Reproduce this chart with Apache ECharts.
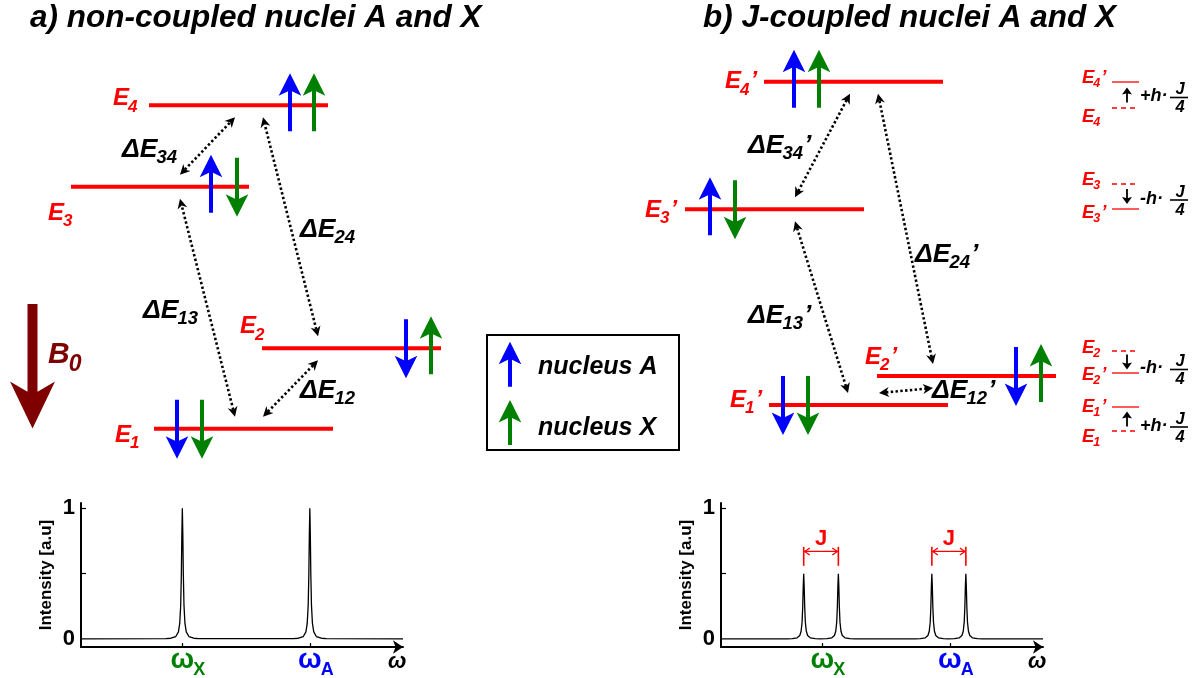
<!DOCTYPE html>
<html><head><meta charset="utf-8">
<script src="https://cdn.jsdelivr.net/npm/echarts@6/dist/echarts.min.js"></script>
<style>html,body{margin:0;padding:0;background:#fff}#c{width:1197px;height:678px}</style>
</head><body><div id="c"></div><script>
// ================= DATA =================
// Spectra: frequency along the ω axis (arb. units), intensity in a.u.
const omegaTicks = [31, 70];                 // ωX, ωA
const omegaTickNames = ['X', 'A'];
const intensityTickLabels = [0, 1];
const intensityTicks = [0.5, 1];
const peaksNonCoupled = [[31, 1], [70, 1]];                        // [position, height]
const peaksCoupled = [[25.3, 0.5], [35.9, 0.5], [64.5, 0.5], [74.9, 0.5]];
const jSplittings = [[25.3, 35.9], [64.5, 74.9]];
// line shape: [offset from centre, relative height]
const lineShape = [[-5,0.004],[-3.5,0.007],[-2,0.02],[-1.2,0.055],[-0.8,0.12],[-0.5,0.26],[-0.3,0.5],[-0.15,0.8],[0,1],
                   [0.15,0.8],[0.3,0.5],[0.5,0.26],[0.8,0.12],[1.2,0.055],[2,0.02],[3.5,0.007],[5,0.004]];

// Energy diagram: energies in diagram units (E1..E4)
const levelIdx = ['1', '2', '3', '4'];
const energiesNonCoupled = [249.3, 329.7, 491.3, 572.7];
const energiesCoupled = [273, 302, 468.7, 596.3];
const spinStates = [['down','down'], ['down','up'], ['up','down'], ['up','up']];   // [nucleus A, nucleus X]
const transitions = [[0,1], [0,2], [1,3], [2,3]];                                  // ΔE12, ΔE13, ΔE24, ΔE34
const shiftDirection = ['up', 'down', 'down', 'up'];                               // E_i' relative to E_i
const shiftSign = ['+', '-', '-', '+'];
const titles = ['a) non-coupled nuclei A and X', 'b) J-coupled nuclei A and X'];
const legendNames = ['nucleus A', 'nucleus X'];
const fieldLabel = ['B', '0'];
const intensityName = 'Intensity [a.u]';

// ================= LAYOUT / STYLE =================
const W = 1197, H = 678;
const RED = '#ff0000', GREEN = '#008000', BLUE = '#0000ff', DARKRED = '#7f0000';
const FF = '"Liberation Sans", Arial, Helvetica, sans-serif';
const L = {
  a: { levelX: [[154,333],[262,441],[71,249],[149,328]],
       label: [[115,13],[240,-15],[48,33],[113,0]],
       spinX: [[177,202],[406,431],[211,237],[290,314]],
       trX: [[263,318],[235,180],[318,263],[180,235]],
       trLabel: [[300,398],[143,318],[300,237],[122,157]],
       prime: '' },
  b: { levelX: [[769,948],[877,1056],[685,864],[764,943]],
       label: [[730,2],[865,-12],[645,7.5],[725,6.5]],
       spinX: [[783,808],[1016,1041],[710,735],[794,819]],
       trX: [[879,933],[848,795],[933,878],[795,850]],
       trLabel: [[932,398],[748,323],[915,262],[748,153]],
       prime: '’' }
};
const SH = { labelX: 1082, lineX: [1112,1139], arrowX: 1127, hX: 1140, fracX: [1170,1188],
  primedY: [407, 373, 209, 82], plainY: [431, 351, 184, 108],
  primedBase: [412, 380, 218, 83], plainBase: [442, 353, 185, 122], fracY: [427, 369.5, 200, 97.5] };

const mctx = document.createElement('canvas').getContext('2d');
function fnt(size, bold, italic) { return (italic ? 'italic ' : '') + (bold ? 'bold ' : '') + size + 'px ' + FF; }
function tw(s, f) { mctx.font = f; return mctx.measureText(s).width; }
const KB = 0.28;
function T(s, x, base, size, color, o) {
  o = o || {};
  const f = fnt(size, o.bold !== false, o.italic !== false);
  const al = o.align || 'left';
  return { type: 'text', z2: 5, style: { text: s, x: x, y: base - KB * size, font: f, fill: color,
    align: al, verticalAlign: 'middle', textAlign: al, textVerticalAlign: 'middle' } };
}
function SL(main, sub, prime, x, base, size, subSize, subDy, color) {
  const els = [T(main, x, base, size, color)];
  let cx = x + tw(main, fnt(size, true, true));
  if (sub) { els.push(T(sub, cx - 1, base + subDy, subSize, color)); cx += tw(sub, fnt(subSize, true, true)) - 1; }
  if (prime) els.push(T(prime, cx + 1, base, size, color));
  return els;
}
function P(api, x, py) { return api.coord([x, H - py]); }
function arrowPts(x, yTail, yTip, hw, hl, sw, nf) {
  const s = yTip > yTail ? 1 : -1;
  return [[x, yTip], [x + hw, yTip - s * hl], [x + sw, yTip - s * hl * nf], [x + sw, yTail],
          [x - sw, yTail], [x - sw, yTip - s * hl * nf], [x - hw, yTip - s * hl]];
}
function blockArrow(api, x, yTail, yTip, hw, hl, sw, nf, color) {
  return { type: 'polygon', shape: { points: arrowPts(x, yTail, yTip, hw, hl, sw, nf).map(p => P(api, p[0], p[1])) },
           style: { fill: color } };
}
function headPoly(tip, dx, dy, hl, hw, nf) {
  const bx = tip[0] - dx * hl, by = tip[1] - dy * hl, px = -dy, py = dx;
  return [tip, [bx + px * hw, by + py * hw], [tip[0] - dx * hl * nf, tip[1] - dy * hl * nf], [bx - px * hw, by - py * hw]];
}
function dottedArrow(p1, p2) {
  const dx = p2[0] - p1[0], dy = p2[1] - p1[1], len = Math.hypot(dx, dy), ux = dx / len, uy = dy / len;
  const hl = 10, hw = 5, nf = 0.7;
  return [
    { type: 'line', shape: { x1: p1[0] + ux * hl * nf, y1: p1[1] + uy * hl * nf, x2: p2[0] - ux * hl * nf, y2: p2[1] - uy * hl * nf },
      style: { stroke: '#000', lineWidth: 2.6, lineDash: [2.4, 2.4] } },
    { type: 'polygon', shape: { points: headPoly(p1, -ux, -uy, hl, hw, nf) }, style: { fill: '#000' } },
    { type: 'polygon', shape: { points: headPoly(p2, ux, uy, hl, hw, nf) }, style: { fill: '#000' } }
  ];
}
function mapEls(api, els) { return els.map(e => { const q = P(api, e.style.x, e.style.y); e.style.x = q[0]; e.style.y = q[1]; return e; }); }

// ---------- diagram elements ----------
const diagramEls = [];
function addPanel(key, energies) {
  const lay = L[key];
  energies.forEach((E, i) => {
    const py = H - E;
    diagramEls.push(api => {
      const a = api.coord([lay.levelX[i][0], E]), b = api.coord([lay.levelX[i][1], E]);
      return { type: 'line', shape: { x1: a[0], y1: a[1], x2: b[0], y2: b[1] }, style: { stroke: RED, lineWidth: 4 } };
    });
    spinStates[i].forEach((dir, n) => {
      const x = lay.spinX[i][n], col = n === 0 ? BLUE : GREEN;
      const tail = dir === 'up' ? py + 26 : py - 29, tip = dir === 'up' ? py - 32 : py + 30;
      diagramEls.push(api => blockArrow(api, x, tail, tip, 11.3, 22.5, 2, 0.8, col));
    });
    diagramEls.push(api => ({ type: 'group', children:
      mapEls(api, SL('E', levelIdx[i], lay.prime, lay.label[i][0], py + lay.label[i][1], 24, 17, 6.5, RED)) }));
  });
  transitions.forEach(([lo, hi], t) => {
    diagramEls.push(api => {
      const p1 = api.coord([lay.trX[t][0], energies[lo] + 12]), p2 = api.coord([lay.trX[t][1], energies[hi] - 12]);
      const lab = mapEls(api, SL('ΔE', levelIdx[lo] + levelIdx[hi], lay.prime, lay.trLabel[t][0], lay.trLabel[t][1], 26.5, 18.5, 6.5, '#000'));
      return { type: 'group', children: dottedArrow(p1, p2).concat(lab) };
    });
  });
}
addPanel('a', energiesNonCoupled);
addPanel('b', energiesCoupled);

// titles
diagramEls.push(api => ({ type: 'group', children: mapEls(api, [T(titles[0], 30, 27, 31.5, '#000'), T(titles[1], 703, 27, 31.5, '#000')]) }));
// B0 field arrow
diagramEls.push(api => ({ type: 'group', children: [blockArrow(api, 32.5, 304, 428.5, 22.5, 47, 5, 0.78, DARKRED)]
  .concat(mapEls(api, SL(fieldLabel[0], fieldLabel[1], '', 48, 363, 30, 23, 8.5, DARKRED))) }));
// legend box
diagramEls.push(api => {
  const a = P(api, 487, 335), b = P(api, 679, 450);
  return { type: 'group', children: [
    { type: 'rect', shape: { x: a[0], y: a[1], width: b[0] - a[0], height: b[1] - a[1] }, style: { fill: 'none', stroke: '#000', lineWidth: 2 } },
    blockArrow(api, 510, 386.7, 341.7, 11.3, 22.5, 2, 0.8, BLUE),
    blockArrow(api, 510, 445, 400, 11.3, 22.5, 2, 0.8, GREEN)
  ].concat(mapEls(api, [T(legendNames[0], 538, 374.5, 25, '#000'), T(legendNames[1], 538, 435, 25, '#000')])) };
});
// level-shift annotations
for (let i = 0; i < 4; i++) {
  diagramEls.push(api => {
    const ch = [];
    const pa = P(api, SH.lineX[0], SH.primedY[i]), pb = P(api, SH.lineX[1], SH.primedY[i]);
    ch.push({ type: 'line', shape: { x1: pa[0], y1: pa[1], x2: pb[0], y2: pb[1] }, style: { stroke: RED, lineWidth: 1.3 } });
    const qa = P(api, SH.lineX[0], SH.plainY[i]), qb = P(api, SH.lineX[1], SH.plainY[i]);
    ch.push({ type: 'line', shape: { x1: qa[0], y1: qa[1], x2: qb[0], y2: qb[1] }, style: { stroke: RED, lineWidth: 1.3, lineDash: [5, 4] } });
    const c = (SH.primedY[i] + SH.plainY[i]) / 2, s = shiftDirection[i] === 'up' ? -1 : 1;
    ch.push(blockArrow(api, SH.arrowX, c - s * 7.5, c + s * 7.5, 5, 7, 0.9, 0.85, '#000'));
    const fy = SH.fracY[i];
    const fa = P(api, SH.fracX[0], fy), fb = P(api, SH.fracX[1], fy);
    ch.push({ type: 'line', shape: { x1: fa[0], y1: fa[1], x2: fb[0], y2: fb[1] }, style: { stroke: '#000', lineWidth: 1.6 } });
    const fc = (SH.fracX[0] + SH.fracX[1]) / 2;
    const txt = SL('E', levelIdx[i], '’', SH.labelX, SH.primedBase[i], 18.5, 12.5, 4, RED)
      .concat(SL('E', levelIdx[i], '', SH.labelX, SH.plainBase[i], 18.5, 12.5, 4, RED))
      .concat([T(shiftSign[i] + 'h·', SH.hX, fy + 4, 18, '#000'), T('J', fc + 1, fy - 3, 16.5, '#000', { align: 'center' }),
               T('4', fc + 1, fy + 15, 16.5, '#000', { align: 'center' })]);
    return { type: 'group', children: ch.concat(mapEls(api, txt)) };
  });
}

// ---------- spectra ----------
const X_MAX = 98.5, Y_MIN = -0.06, Y_MAX = 1.04;
function buildSpectrum(peaks) {
  const pts = [[0, 0.002]];
  peaks.forEach(([c, h]) => lineShape.forEach(([d, r]) => pts.push([c + d, h * r])));
  pts.push([X_MAX, 0.002]);
  return pts;
}
function specX(gi) {
  return { gridIndex: gi, type: 'value', min: 0, max: X_MAX,
    axisLine: { show: true, onZero: false, symbol: ['none', 'arrow'], symbolSize: [10, 10], lineStyle: { color: '#000', width: 2 } },
    axisTick: { show: true, inside: true, length: 4, customValues: omegaTicks, lineStyle: { color: '#000', width: 1.2 } },
    axisLabel: { show: false }, splitLine: { show: false } };
}
function specY(gi) {
  return { gridIndex: gi, type: 'value', min: Y_MIN, max: Y_MAX,
    name: intensityName, nameLocation: 'middle', nameGap: 26, nameRotate: 90,
    nameTextStyle: { fontFamily: FF, fontSize: 17, fontWeight: 'bold', color: '#000' },
    axisLine: { show: true, onZero: false, lineStyle: { color: '#000', width: 2 } },
    axisTick: { show: true, inside: true, length: 5, customValues: intensityTicks, lineStyle: { color: '#000', width: 1.2 } },
    axisLabel: { show: true, customValues: intensityTickLabels, fontFamily: FF, fontSize: 22, fontWeight: 'bold', color: '#000', margin: 6 },
    splitLine: { show: false } };
}
function omegaLabels(gi) {
  return { type: 'custom', xAxisIndex: gi, yAxisIndex: gi, silent: true, clip: false, z: 5,
    data: omegaTicks.map(t => [t, 0]).concat([[X_MAX, 0]]),
    renderItem: (p, api) => {
      const i = p.dataIndex, pt = api.coord([api.value(0), Y_MIN]);
      if (i === omegaTicks.length) return T('ω', pt[0] - 15, pt[1] + 21, 22, '#000');
      const col = i === 0 ? GREEN : BLUE, w = tw('ω', fnt(28, true, false));
      return { type: 'group', children: [T('ω', pt[0], pt[1] + 21, 28, col, { italic: false, align: 'center' }),
        T(omegaTickNames[i], pt[0] + w / 2 - 1, pt[1] + 28, 18, col, { italic: false })] };
    } };
}
const jSeries = { type: 'custom', xAxisIndex: 2, yAxisIndex: 2, silent: true, clip: false, z: 5,
  data: jSplittings.map(p => [p[0], p[1]]),
  renderItem: (p, api) => {
    const x0 = api.value(0), x1 = api.value(1);
    const a0 = api.coord([x0, 0.56]), a1 = api.coord([x0, 0.705]), b0 = api.coord([x1, 0.56]), b1 = api.coord([x1, 0.705]);
    const m0 = api.coord([x0, 0.67]), m1 = api.coord([x1, 0.67]), lab = api.coord([(x0 + x1) / 2, 0.72]);
    const st = { stroke: RED, lineWidth: 1.3, fill: 'none' };
    return { type: 'group', children: [
      { type: 'line', shape: { x1: a0[0], y1: a0[1], x2: a1[0], y2: a1[1] }, style: { stroke: RED, lineWidth: 1.6 } },
      { type: 'line', shape: { x1: b0[0], y1: b0[1], x2: b1[0], y2: b1[1] }, style: { stroke: RED, lineWidth: 1.6 } },
      { type: 'line', shape: { x1: m0[0] + 1, y1: m0[1], x2: m1[0] - 1, y2: m1[1] }, style: { stroke: RED, lineWidth: 1.3 } },
      { type: 'polyline', shape: { points: [[m0[0] + 6, m0[1] - 3.5], [m0[0] + 1, m0[1]], [m0[0] + 6, m0[1] + 3.5]] }, style: st },
      { type: 'polyline', shape: { points: [[m1[0] - 6, m1[1] - 3.5], [m1[0] - 1, m1[1]], [m1[0] - 6, m1[1] + 3.5]] }, style: st },
      { type: 'text', style: { text: 'J', x: lab[0], y: lab[1] - 0.28 * 22, font: fnt(22, true, false), fill: RED,
        align: 'center', verticalAlign: 'middle', textAlign: 'center', textVerticalAlign: 'middle' } }
    ] };
  } };

const option = {
  animation: false,
  backgroundColor: '#fff',
  grid: [
    { left: 0, top: 0, width: W, height: H, outerBoundsMode: 'none' },
    { left: 81, top: 503, width: 322, height: 144, outerBoundsMode: 'none' },
    { left: 721, top: 503, width: 322, height: 144, outerBoundsMode: 'none' }
  ],
  xAxis: [{ gridIndex: 0, type: 'value', min: 0, max: W, show: false }, specX(1), specX(2)],
  yAxis: [{ gridIndex: 0, type: 'value', min: 0, max: H, show: false }, specY(1), specY(2)],
  series: [
    { type: 'custom', xAxisIndex: 0, yAxisIndex: 0, silent: true, clip: false, z: 10,
      data: diagramEls.map(() => [0, 0]),
      renderItem: (p, api) => diagramEls[p.dataIndex](api) },
    { type: 'line', xAxisIndex: 1, yAxisIndex: 1, data: buildSpectrum(peaksNonCoupled), showSymbol: false, silent: true,
      lineStyle: { color: '#000', width: 1.3 } },
    { type: 'line', xAxisIndex: 2, yAxisIndex: 2, data: buildSpectrum(peaksCoupled), showSymbol: false, silent: true,
      lineStyle: { color: '#000', width: 1.3 } },
    omegaLabels(1), omegaLabels(2), jSeries
  ]
};
const chart = echarts.init(document.getElementById('c'), null, { renderer: 'canvas' });
chart.setOption(option);
</script></body></html>
